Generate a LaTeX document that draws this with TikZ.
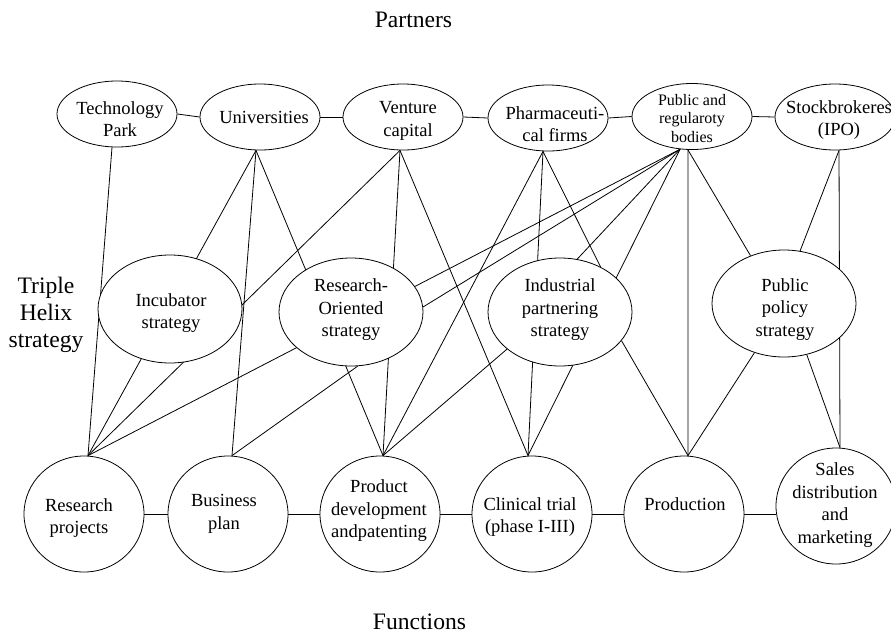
\documentclass[tikz,border=0pt]{standalone}
\usepackage{fontspec}
\setmainfont{Liberation Serif}
\usetikzlibrary{shapes.geometric,backgrounds}
\begin{document}
\begin{tikzpicture}[x=1pt,y=-1pt,
  shapebox/.style={draw,line width=0.8pt,fill=white,inner sep=0pt},
  topel/.style={shapebox,ellipse,minimum width=120pt,minimum height=66pt},
  midel/.style={shapebox,ellipse,minimum width=144pt,minimum height=108pt},
  botel/.style={shapebox,ellipse,minimum width=120pt,minimum height=116pt},
  txt/.style={align=center,inner sep=0pt,font=\fontsize{18.5}{22.5}\selectfont},
  smalltxt/.style={align=center,inner sep=0pt,font=\fontsize{16}{18.8}\selectfont},
  title/.style={align=center,inner sep=0pt,font=\fontsize{23.6}{27}\selectfont},
  link/.style={line width=0.8pt}]
\useasboundingbox (0,0) rectangle (891,635);

% titles
\node[title] (partners) at (413.5,20) {Partners};
\node[title] (functions) at (419.5,621.5) {Functions};
\node[title] (helix) at (46,314.5) {Triple\\Helix\\strategy};

% top row: partners
\node[topel] (tp) at (117,114) {};
\node[topel] (univ) at (260,117) {};
\node[topel] (vc) at (403,117) {};
\node[topel] (ph) at (548,118) {};
\node[topel] (pub) at (692,116.5) {};
\node[topel] (st) at (835,117) {};
\node[txt] (tp-t) at ([shift={(3,5)}]tp.center) {Technology\\Park};
\node[txt] (univ-t) at ([shift={(4,0)}]univ.center) {Universities};
\node[txt] (vc-t) at ([shift={(5,4)}]vc.center) {Venture\\capital};
\node[txt] (ph-t) at ([shift={(7,6)}]ph.center) {Pharmaceuti-\\cal firms};
\node[smalltxt] (pub-t) at ([shift={(0,2)}]pub.center) {Public and\\regularoty\\bodies};
\node[txt] (st-t) at ([shift={(4,3)}]st.center) {Stockbrokeres\\(IPO)};

% middle row: strategies
\node[midel] (inc) at (170,309) {};
\node[midel] (ro) at (351,312) {};
\node[midel] (ip) at (560,312) {};
\node[midel,minimum height=107pt] (pp) at (784,303.5) {};
\node[txt] (inc-t) at ([shift={(1,4)}]inc.center) {Incubator\\strategy};
\node[txt] (ro-t) at ([shift={(0,-2)}]ro.center) {Research-\\Oriented\\strategy};
\node[txt] (ip-t) at ([shift={(0,-2)}]ip.center) {Industrial\\partnering\\strategy};
\node[txt] (pp-t) at ([shift={(1,6)}]pp.center) {Public\\policy\\strategy};

% bottom row: functions
\node[botel] (rp) at (84,514) {};
\node[botel] (bp) at (228,514) {};
\node[botel] (pd) at (380,514) {};
\node[botel] (ct) at (532,514) {};
\node[botel] (prod) at (684,514) {};
\node[botel] (sales) at (836,506) {};
\node[txt] (rp-t) at ([shift={(-5,4)}]rp.center) {Research\\projects};
\node[txt] (bp-t) at ([shift={(-4,0)}]bp.center) {Business\\plan};
\node[txt] (pd-t) at ([shift={(-1,-3)}]pd.center) {Product\\development\\andpatenting};
\node[txt] (ct-t) at ([shift={(-2,3)}]ct.center) {Clinical trial\\(phase I-III)};
\node[txt] (prod-t) at ([shift={(1,-10)}]prod.center) {Production};
\node[txt] (sales-t) at ([shift={(-1,-1)}]sales.center) {Sales\\distribution\\and\\marketing};

% connection points
\coordinate (tpS) at ([xshift=-5pt]tp.south);
\coordinate (uS) at ([xshift=-4pt]univ.south);
\coordinate (vS) at ([xshift=-3pt]vc.south);
\coordinate (phS) at ([xshift=-5pt]ph.south);
\coordinate (pubS) at (pub.250);
\coordinate (pubV) at (pub.263);
\coordinate (stS) at ([xshift=4pt]st.south);
\coordinate (rpN) at ([xshift=4pt]rp.north);
\coordinate (bpN) at ([xshift=4pt]bp.north);
\coordinate (pdN) at ([xshift=3pt]pd.north);
\coordinate (ctN) at ([xshift=-4pt]ct.north);
\coordinate (prodN) at ([xshift=4pt]prod.north);
\coordinate (salesN) at ([xshift=4pt]sales.north);

\begin{pgfonlayer}{background}
% horizontal chains
\draw[link] (tp.east) -- (univ.west);
\draw[link] (univ.east) -- (vc.west);
\draw[link] (vc.east) -- (ph.west);
\draw[link] (ph.east) -- (pub.west);
\draw[link] (pub.east) -- (st.west);
\draw[link] (rp.east) -- (bp.west);
\draw[link] (bp.east) -- (pd.west);
\draw[link] (pd.east) -- (ct.west);
\draw[link] (ct.east) -- (prod.west);
\draw[link] (prod.east) -- (prod.east -| sales.west);
% partners to functions and strategies
\draw[link] (tpS) -- (rpN);
\draw[link] (uS) -- (rpN);
\draw[link] (uS) -- (bpN);
\draw[link] (uS) -- (pdN);
\draw[link] (vS) -- (rpN);
\draw[link] (vS) -- (pdN);
\draw[link] (vS) -- (ctN);
\draw[link] (phS) -- (pdN);
\draw[link] (phS) -- (ctN);
\draw[link] (phS) -- (ip.48);
\draw[link] (ip.-25) -- (prodN);
\draw[link] (pubS) -- (rpN);
\draw[link] (pubS) -- (ro.4);
\draw[link] (ro.-83) -- (bpN);
\draw[link] (pubS) -- (ip.72);
\draw[link] (ip.215) -- (pdN);
\draw[link] (pubS) -- (ctN);
\draw[link] (pubV) -- (prodN);
\draw[link] (pubV) -- (pp.125);
\draw[link] (stS) -- (pp.73);
\draw[link] (stS) -- (salesN);
\draw[link] (pp.239) -- (prodN);
\draw[link] (pp.294) -- (salesN);
\end{pgfonlayer}
\end{tikzpicture}
\end{document}
